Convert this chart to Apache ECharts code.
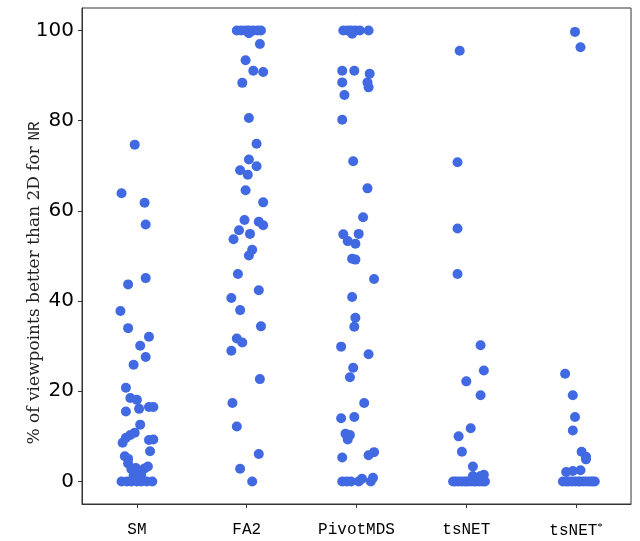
<!DOCTYPE html>
<html>
<head>
<meta charset="utf-8">
<script src="https://cdn.jsdelivr.net/npm/echarts@6/dist/echarts.min.js"></script>
<style>
  html, body { margin: 0; padding: 0; background: #fff; }
  #chart { width: 640px; height: 541px; }
</style>
</head>
<body>
<div id="chart"></div>
<script>
// Layout methods compared in the strip plot
const categories = ['SM', 'FA2', 'PivotMDS', 'tsNET', 'tsNET*'];
const yTicks = [0, 20, 40, 60, 80, 100];

// Percentage of viewpoints better than 2D, one value per graph
const smValues = [74.7, 63.9, 61.8, 57.0, 45.1, 43.7, 37.8, 34.0, 32.1, 30.1, 27.6, 25.9, 20.8, 18.5, 18.1, 16.1, 16.5, 16.5, 15.5, 12.6, 10.8, 10.3, 9.7, 8.6, 9.2, 9.3, 6.7, 5.6, 5.0, 4.0, 2.7, 3.0, 2.9, 3.3, 1.3, 1.5, 0, 0, 0, 0, 0, 0, 0];
const fa2Values = [100, 100, 100, 100, 100, 100, 100, 99.4, 97.0, 93.4, 91.1, 90.8, 88.4, 80.6, 74.9, 71.4, 69.9, 69.0, 68.0, 64.6, 61.9, 58.0, 57.6, 56.8, 55.7, 54.9, 53.7, 51.4, 50.1, 46.0, 42.4, 40.7, 38.0, 34.4, 31.7, 30.8, 29.0, 22.7, 17.4, 12.2, 6.1, 2.8, 0];
const pivotValues = [100, 100, 100, 100, 100, 100, 99.3, 91.1, 91.1, 90.4, 88.5, 88.5, 87.4, 85.7, 80.2, 71.0, 65.0, 58.6, 54.8, 54.9, 53.3, 52.7, 49.4, 49.2, 44.9, 40.9, 36.3, 34.3, 29.9, 28.2, 25.2, 23.1, 17.4, 14.0, 14.3, 10.6, 10.3, 9.3, 5.3, 5.8, 6.5, 0, 0, 0, 0, 0.6, 0, 0.8];
const tsnetValues = [95.5, 70.8, 56.1, 46.0, 30.2, 24.6, 22.2, 19.1, 11.8, 10.0, 6.6, 3.3, 1.5, 1.2, 1.2, 0, 0, 0, 0, 0, 0, 0, 0, 0, 0, 0, 0];
const tsnetStarValues = [99.7, 96.3, 23.9, 19.1, 14.3, 11.3, 6.6, 5.5, 4.9, 2.1, 2.3, 2.5, 0, 0, 0, 0, 0, 0, 0, 0, 0, 0, 0, 0];

// Horizontal strip jitter of each point, in percent of a category band
const smJitter = [-2, -14, 7, 8, 8, -8, -15, -8, 11, 3, 8, -3, -10, -6, 0, 2, 11, 15, -10, 3, -2, -6, -10, -13, 11, 15, 12, -11, -8, -8, -5, -1, 7, 10, -3, 4, -14, -9, -5, 0, 4, 9, 14];
const fa2Jitter = [-9, -5, -1, 2, 6, 10, 13, 2, 12, -1, 6, 15, -4, 2, 9, 2, 9, -6, 1, -1, 15, -2, 11, 15, -7, 3, -12, 5, 2, -8, 11, -14, -6, 13, -9, -4, -14, 12, -13, -9, 11, -6, 5];
const pivotJitter = [-12, -8, -5, -1, 3, 11, -4, -13, -2, 12, -13, 10, 11, -11, -13, -3, 10, 6, -12, 2, -8, -1, -4, -1, 16, -4, -1, -2, -14, 11, -3, -6, 7, -14, -2, -10, -6, -8, -13, 11, 16, -13, -9, -5, 2, 5, 13, 15];
const tsnetJitter = [-6, -8, -8, -8, 13, 16, 0, 13, 4, -7, -4, 6, 16, 13, 6, -12, -10, -7, -4, -1, 1, 4, 7, 9, 12, 15, 17];
const tsnetStarJitter = [-1, 4, -10, -3, -1, -3, 5, 9, 9, -9, -3, 4, -12, -9, -7, -4, -1, 2, 4, 7, 10, 13, 15, 17];

const valueSets = [smValues, fa2Values, pivotValues, tsnetValues, tsnetStarValues];
const jitterSets = [smJitter, fa2Jitter, pivotJitter, tsnetJitter, tsnetStarJitter];

const points = [];
valueSets.forEach((vals, ci) => {
  vals.forEach((v, i) => {
    points.push([ci + jitterSets[ci][i] / 100, v]);
  });
});

const frameColor = '#333';

const chart = echarts.init(document.getElementById('chart'), null, { renderer: 'canvas' });
chart.setOption({
  animation: false,
  backgroundColor: '#fff',
  grid: {
    left: 82, right: 9, top: 8, bottom: 37,
    show: true, borderColor: frameColor, borderWidth: 1, backgroundColor: 'transparent'
  },
  xAxis: [
    {
      type: 'category',
      data: categories,
      boundaryGap: true,
      axisLine: { show: true, onZero: false, lineStyle: { color: frameColor, width: 1 } },
      axisTick: { show: true, alignWithLabel: true, length: 4, lineStyle: { color: frameColor } },
      splitLine: { show: false },
      axisLabel: {
        interval: 0,
        margin: 18,
        color: '#000',
        fontFamily: 'Liberation Mono',
        fontSize: 16,
        formatter: (v) => v.endsWith('*') ? v.slice(0, -1) + '{sup|*}' : v,
        rich: {
          sup: { fontFamily: 'Liberation Serif', fontSize: 11, verticalAlign: 'top', color: '#000', padding: [0, 0, 6, 0] }
        }
      }
    },
    {
      type: 'value',
      min: -0.5,
      max: 4.5,
      show: false,
      axisLine: { onZero: false }
    }
  ],
  yAxis: {
    type: 'value',
    min: -5,
    max: 105,
    axisLine: { show: true, onZero: false, lineStyle: { color: frameColor, width: 1 } },
    axisTick: { show: true, length: 4, customValues: yTicks, lineStyle: { color: frameColor } },
    splitLine: { show: false },
    axisLabel: {
      customValues: yTicks,
      margin: 8,
      color: '#000',
      fontFamily: 'DejaVu Sans',
      fontSize: 20
    },
    name: '% of viewpoints better than 2D for {tt|NR}',
    nameLocation: 'middle',
    nameGap: 39,
    nameRotate: 90,
    nameMoveOverlap: false,
    nameTextStyle: {
      fontFamily: 'DejaVu Serif',
      fontSize: 17,
      color: '#222',
      padding: [0, 54, 0, 0],
      rich: {
        tt: { fontFamily: 'Liberation Mono', fontSize: 16, color: '#222' }
      }
    }
  },
  series: [{
    type: 'scatter',
    xAxisIndex: 1,
    data: points,
    symbol: 'circle',
    symbolSize: 10,
    itemStyle: { color: '#4169E1', opacity: 1 },
    clip: false
  }]
});
</script>
</body>
</html>
